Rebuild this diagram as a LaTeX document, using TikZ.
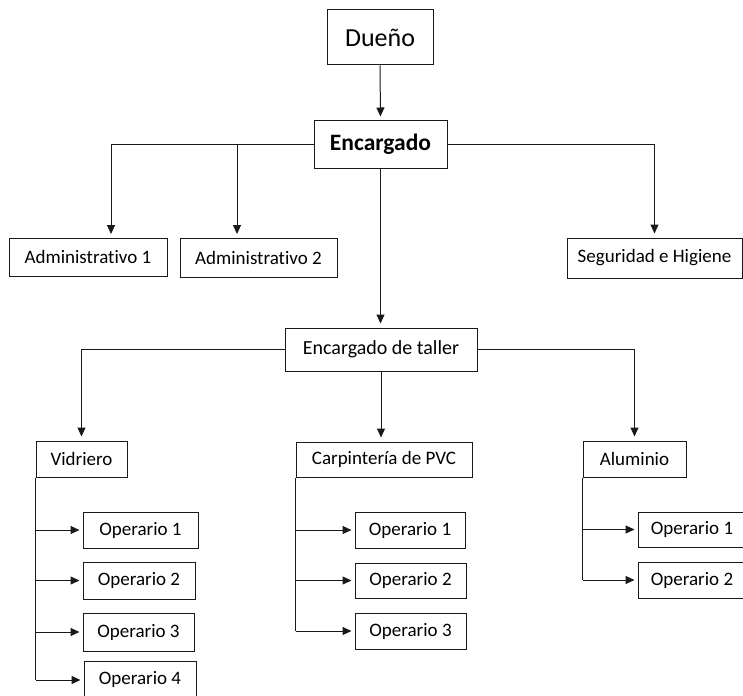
\documentclass[tikz,border=0pt]{standalone}
\usepackage{fontspec}
\setmainfont{Carlito}[Ligatures={NoCommon}]
\usetikzlibrary{arrows.meta}
\tikzset{
  box/.style={draw=black!90, line width=1pt, inner sep=0pt, rectangle, font=\fontsize{19}{22}\selectfont},
  arr/.style={draw=black!90, line width=1pt, -{Triangle[length=9pt,width=8pt]}, shorten >=4pt},
  arrs/.style={draw=black!90, line width=1pt, -{Triangle[length=9pt,width=8pt]}, shorten >=3pt},
  ln/.style={draw=black!90, line width=1pt}
}
\begin{document}
\begin{tikzpicture}[x=1pt,y=-1pt]
\useasboundingbox (0,0) rectangle (743,695);
% top
\node[box, minimum width=106, minimum height=55, font=\fontsize{26}{30}\selectfont] (due) at (380,37.5) {Dueño};
\node[box, minimum width=133, minimum height=47, font=\fontsize{23.5}{28}\selectfont\bfseries] (enc) at (380.5,144.5) {Encargado};
\node[box, minimum width=158, minimum height=38] (adm1) at (88,257) {Administrativo 1};
\node[box, minimum width=157, minimum height=39] (adm2) at (258.5,257.5) {Administrativo 2};
\node[box, minimum width=175, minimum height=40] (seg) at (654.5,258) {Seguridad e Higiene};
\node[box, minimum width=192, minimum height=43, font=\fontsize{20}{23}\selectfont] (tal) at (381,349.5) {Encargado de taller};
% sections
\node[box, minimum width=91, minimum height=36] (vid) at (81.5,459) {Vidriero};
\node[box, minimum width=176, minimum height=35] (carp) at (384,459.5) {Carpintería de PVC};
\node[box, minimum width=103, minimum height=36] (alu) at (634.5,459) {Aluminio};
% operarios vidriero
\node[box, minimum width=115, minimum height=36] (v1) at (140.5,530) {Operario 1};
\node[box, minimum width=112, minimum height=37] (v2) at (139,580.5) {Operario 2};
\node[box, minimum width=111, minimum height=38] (v3) at (138.5,632) {Operario 3};
\node[box, minimum width=112, minimum height=36] (v4) at (140,679) {Operario 4};
% operarios carpinteria
\node[box, minimum width=110, minimum height=36] (c1) at (410,530) {Operario 1};
\node[box, minimum width=111, minimum height=35] (c2) at (410.5,580.5) {Operario 2};
\node[box, minimum width=111, minimum height=36] (c3) at (410.5,631) {Operario 3};
% operarios aluminio
\node[box, minimum width=108, minimum height=35] (a1) at (692,529.5) {Operario 1};
\node[box, minimum width=108, minimum height=36] (a2) at (692,580) {Operario 2};
% coordinates for off-centre drops
\coordinate (ad1top) at (111,238);
\coordinate (ad2top) at (237,238);
% connectors
\draw[arr] (due.south) -- (enc.north);
\draw[arr] (enc.west) -| (ad1top);
\draw[arr] (enc.west -| ad2top) -- (ad2top);
\draw[arr] (enc.east) -| (seg.north);
\draw[arr] (enc.south) -- (enc.south |- tal.north);
\draw[arr] (tal.west) -| (vid.north);
\draw[arr] (tal.south) -- (tal.south |- carp.north);
\draw[arr] (tal.east) -| (alu.north);
% vidriero branch
\draw[ln] (vid.south west) -- ([yshift=-1pt]vid.south west |- v4.west);
\draw[arrs] (vid.south west |- v1.west) -- (v1.west);
\draw[arrs] (vid.south west |- v2.west) -- (v2.west);
\draw[arrs] (vid.south west |- v3.west) -- (v3.west);
\draw[arrs] ([yshift=-1pt]vid.south west |- v4.west) -- ([yshift=-1pt]v4.west);
% carpinteria branch
\draw[ln] (carp.south west) -- (carp.south west |- c3.west);
\draw[arrs] (carp.south west |- c1.west) -- (c1.west);
\draw[arrs] (carp.south west |- c2.west) -- (c2.west);
\draw[arrs] (carp.south west |- c3.west) -- (c3.west);
% aluminio branch
\draw[ln] (alu.south west) -- (alu.south west |- a2.west);
\draw[arrs] (alu.south west |- a1.west) -- (a1.west);
\draw[arrs] (alu.south west |- a2.west) -- (a2.west);
\end{tikzpicture}
\end{document}
